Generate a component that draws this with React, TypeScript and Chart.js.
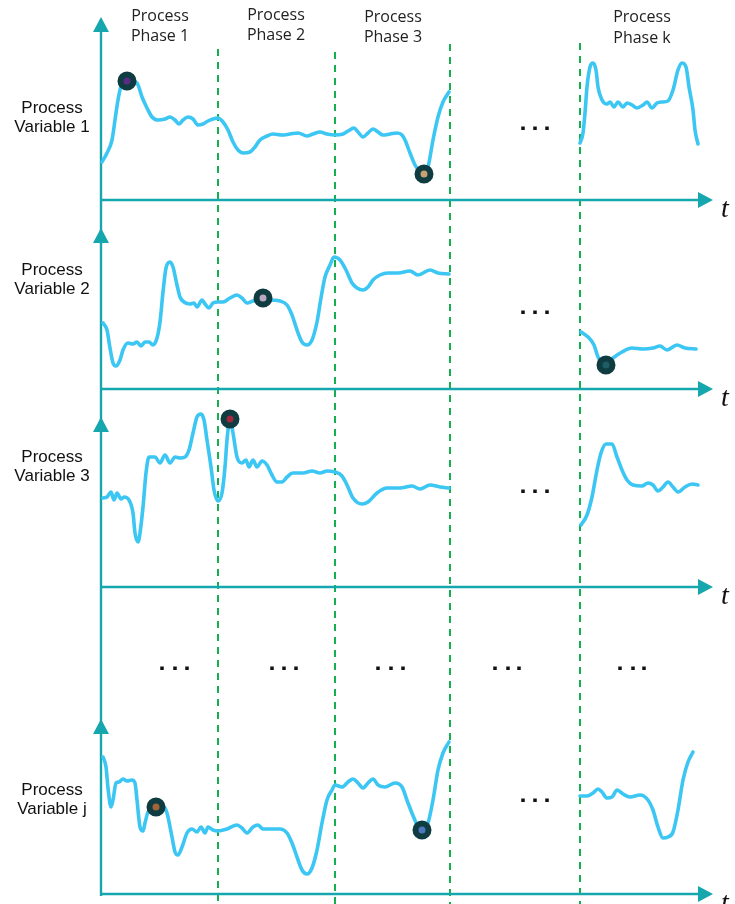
import React, { useEffect, useRef } from "react";
import { Chart, registerables } from "chart.js";

Chart.register(...registerables);

// ---------- labels ----------
const phaseLabels = ["Process\nPhase 1", "Process\nPhase 2", "Process\nPhase 3", "Process\nPhase k"];
const variableLabels = ["Process\nVariable 1", "Process\nVariable 2", "Process\nVariable 3", "Process\nVariable j"];
const timeAxisLabel = "t";

// phase positions (time units, 0 = vertical axis)
const phaseBoundaryT = [117, 234, 349, 479];
const phaseLabelT = [59, 175, 292, 541];

// ---------- series values (height above each panel's time axis) ----------
// Process Variable 1
const var1TimeA = [1, 6, 11, 14, 17, 21, 27, 36, 41, 46, 51, 57, 64, 69, 74, 78, 82, 87, 92, 97, 102, 107, 112, 117, 122, 127, 132, 137, 142, 149, 154, 159, 166, 172, 181, 189, 197, 206, 212, 219, 226, 234, 242, 247, 253, 257, 262, 267, 272, 277, 282, 289, 296, 301, 304, 309, 314, 319, 323, 327, 332, 337, 342, 348];
const var1ValA = [38, 47, 60, 80, 100, 117, 120, 117, 103, 92, 83, 80, 81, 83, 80, 76, 80, 83, 81, 75, 76, 79, 81, 82, 78, 70, 58, 50, 47, 48, 53, 60, 64, 66, 65, 66, 67, 64, 66, 68, 66, 65, 66, 69, 72, 68, 63, 67, 71, 68, 65, 66, 67, 65, 60, 47, 35, 28, 26, 33, 60, 83, 98, 108];
const var1TimeK = [479, 482, 484, 486, 489, 492, 495, 497, 501, 506, 509, 513, 517, 522, 526, 531, 536, 542, 546, 551, 556, 561, 567, 572, 577, 581, 585, 588, 592, 594, 597];
const var1ValK = [57, 67, 87, 113, 133, 137, 130, 113, 100, 96, 98, 93, 98, 93, 97, 95, 92, 95, 98, 92, 97, 98, 99, 110, 130, 137, 133, 113, 90, 70, 56];

// Process Variable 2
const var2TimeA = [2, 6, 9, 12, 15, 19, 22, 27, 32, 36, 40, 44, 48, 52, 56, 59, 62, 65, 69, 72, 76, 79, 83, 89, 93, 96, 101, 104, 108, 112, 117, 122, 129, 136, 141, 146, 152, 162, 171, 179, 186, 191, 196, 201, 206, 211, 216, 220, 224, 229, 233, 239, 245, 251, 256, 262, 267, 272, 279, 287, 297, 309, 317, 329, 337, 348];
const var2ValA = [66, 59, 41, 26, 23, 29, 39, 46, 45, 47, 43, 47, 47, 44, 51, 67, 97, 121, 127, 122, 104, 92, 87, 85, 86, 82, 89, 85, 81, 86, 87, 87, 91, 94, 91, 86, 88, 91, 89, 88, 84, 74, 59, 47, 44, 49, 67, 91, 112, 124, 132, 129, 119, 106, 101, 99, 102, 109, 114, 116, 116, 118, 114, 119, 116, 115];
const var2TimeK = [480, 487, 493, 497, 505, 512, 521, 531, 542, 552, 559, 566, 576, 584, 595];
const var2ValK = [57, 52, 44, 32, 24, 31, 37, 41, 40, 41, 43, 39, 44, 41, 40];

// Process Variable 3
const var3TimeA = [2, 6, 10, 13, 16, 20, 23, 28, 32, 34, 37, 39, 42, 45, 48, 54, 59, 64, 69, 74, 79, 84, 88, 92, 96, 100, 103, 106, 110, 113, 117, 121, 124, 126, 129, 132, 136, 141, 145, 148, 152, 156, 161, 166, 171, 176, 181, 186, 192, 202, 211, 219, 226, 234, 241, 246, 252, 261, 267, 276, 286, 299, 311, 319, 329, 339, 348];
const var3ValA = [89, 90, 95, 87, 94, 88, 90, 87, 74, 54, 45, 54, 80, 114, 130, 130, 124, 132, 124, 130, 129, 130, 137, 154, 170, 173, 167, 147, 120, 97, 86, 94, 120, 147, 168, 154, 130, 124, 127, 120, 127, 120, 126, 122, 112, 105, 105, 110, 114, 114, 116, 114, 116, 115, 111, 102, 89, 83, 85, 94, 99, 99, 101, 98, 102, 100, 99];
const var3TimeK = [480, 486, 491, 496, 500, 505, 511, 516, 521, 526, 532, 541, 547, 552, 557, 562, 567, 572, 577, 584, 591, 597];
const var3ValK = [62, 72, 90, 117, 134, 143, 143, 130, 117, 107, 102, 101, 104, 102, 96, 100, 105, 100, 95, 100, 103, 102];

// Process Variable j
const varJTimeA = [2, 5, 7, 10, 12, 15, 18, 22, 26, 31, 34, 36, 39, 42, 44, 47, 55, 63, 66, 71, 74, 77, 81, 86, 91, 96, 100, 104, 107, 112, 117, 126, 136, 141, 146, 152, 157, 162, 171, 179, 186, 191, 196, 201, 206, 211, 216, 221, 226, 231, 234, 241, 247, 252, 257, 262, 267, 272, 277, 284, 294, 301, 307, 313, 317, 321, 327, 332, 337, 342, 348];
const varJValA = [137, 127, 106, 87, 94, 111, 112, 115, 113, 114, 111, 94, 67, 63, 71, 82, 87, 87, 81, 57, 42, 39, 47, 61, 65, 62, 67, 61, 67, 64, 63, 65, 69, 66, 61, 67, 69, 65, 65, 65, 61, 51, 37, 24, 20, 26, 44, 71, 94, 104, 109, 107, 112, 115, 111, 106, 111, 115, 109, 107, 111, 107, 91, 76, 67, 64, 71, 94, 124, 141, 152];
const varJTimeK = [479, 486, 492, 497, 501, 506, 511, 516, 522, 529, 539, 547, 552, 557, 562, 567, 572, 577, 582, 587, 592];
const varJValK = [98, 98, 101, 105, 102, 96, 97, 104, 100, 97, 99, 94, 84, 67, 56, 57, 62, 84, 114, 132, 142];

// highlighted points
const markerPanel = [0, 0, 1, 1, 2, 3, 3];
const markerT = [26, 323, 162, 505, 129, 55, 321];
const markerV = [119, 26, 91, 24, 168, 87, 64];
const markerFill = ["#5b2a86", "#c9a274", "#baa8c2", "#1e5c66", "#a3263f", "#a3643a", "#4c78c2"];

// ellipsis positions
const panelEllipsisT = [422, 434, 446];
const panelEllipsisV = [72, 77, 96, 94];
const rowEllipsisT = [[61, 74, 86], [171, 183, 195], [277, 290, 302], [394, 407, 418], [519, 532, 543]];

// ---------- layout / style ----------
const W = 735;
const H = 904;
const ORIGIN_X = 101;
const PANEL_AXIS_PX = [200, 389, 587, 894];
const PANEL_ARROW_TOP = [183, 161, 170, 175]; // axis height (local units)
const DASH_TOP_PX = [49, 52, 44, 43];
const ROW_ELLIPSIS_PX = 668;
const AXIS_END_T = 597;
const VAR_LABEL_BASE = [[113, 132], [275, 294], [462, 481], [795, 814]];
const PHASE_LABEL_BASE = [[21, 41], [20, 40], [22, 42], [22, 43]];

const CURVE = "#3cc6f3";
const AXIS = "#15a6ae";
const GREEN = "#14b04f";
const MARKER_RING = "#0e3c40";

const segments = [
  { panel: 0, t: var1TimeA, v: var1ValA },
  { panel: 0, t: var1TimeK, v: var1ValK },
  { panel: 1, t: var2TimeA, v: var2ValA },
  { panel: 1, t: var2TimeK, v: var2ValK },
  { panel: 2, t: var3TimeA, v: var3ValA },
  { panel: 2, t: var3TimeK, v: var3ValK },
  { panel: 3, t: varJTimeA, v: varJValA },
  { panel: 3, t: varJTimeK, v: varJValK },
];

const decorPlugin = {
  id: "decor",
  beforeDatasetsDraw(chart: any) {
    const ctx = chart.ctx as CanvasRenderingContext2D;
    const xs = chart.scales.x;
    ctx.save();
    // phase boundaries
    ctx.strokeStyle = GREEN;
    ctx.lineWidth = 2;
    ctx.setLineDash([7, 6]);
    phaseBoundaryT.forEach((t, i) => {
      const x = Math.round(xs.getPixelForValue(t));
      ctx.beginPath();
      ctx.moveTo(x, DASH_TOP_PX[i]);
      ctx.lineTo(x, H);
      ctx.stroke();
    });
    ctx.setLineDash([]);

    // axes
    const x0 = xs.getPixelForValue(0);
    const xEnd = xs.getPixelForValue(AXIS_END_T);
    ctx.strokeStyle = AXIS;
    ctx.fillStyle = AXIS;
    ctx.lineWidth = 2.4;
    const topY = chart.scales.y0.getPixelForValue(PANEL_ARROW_TOP[0]);
    const botY = chart.scales.y3.getPixelForValue(0);
    ctx.beginPath();
    ctx.moveTo(x0, topY + 6);
    ctx.lineTo(x0, botY + 2);
    ctx.stroke();
    for (let p = 0; p < 4; p++) {
      const ys = chart.scales["y" + p];
      const yA = ys.getPixelForValue(0);
      ctx.beginPath();
      ctx.moveTo(x0, yA);
      ctx.lineTo(xEnd + 2, yA);
      ctx.stroke();
      // horizontal arrow
      ctx.beginPath();
      ctx.moveTo(xEnd + 15, yA);
      ctx.lineTo(xEnd, yA - 8);
      ctx.lineTo(xEnd, yA + 8);
      ctx.closePath();
      ctx.fill();
      // vertical arrow
      const yT = ys.getPixelForValue(PANEL_ARROW_TOP[p]);
      ctx.beginPath();
      ctx.moveTo(x0, yT);
      ctx.lineTo(x0 - 8, yT + 15);
      ctx.lineTo(x0 + 8, yT + 15);
      ctx.closePath();
      ctx.fill();
      // t label
      ctx.fillStyle = "#111";
      ctx.font = "italic 28px 'Liberation Serif', serif";
      ctx.textAlign = "left";
      ctx.textBaseline = "alphabetic";
      ctx.fillText(timeAxisLabel, xEnd + 23, yA + 17);
      ctx.fillStyle = AXIS;
    }
    ctx.restore();
  },
  afterDatasetsDraw(chart: any) {
    const ctx = chart.ctx as CanvasRenderingContext2D;
    const xs = chart.scales.x;
    ctx.save();
    // phase labels
    ctx.fillStyle = "#222";
    ctx.font = "16px 'Open Sans', sans-serif";
    ctx.textAlign = "center";
    ctx.textBaseline = "alphabetic";
    phaseLabels.forEach((lab, i) => {
      const x = xs.getPixelForValue(phaseLabelT[i]);
      lab.split("\n").forEach((line, j) => ctx.fillText(line, x, PHASE_LABEL_BASE[i][j]));
    });
    // variable labels
    ctx.fillStyle = "#111";
    ctx.font = "17px 'Liberation Sans', Arial, sans-serif";
    variableLabels.forEach((lab, i) => {
      lab.split("\n").forEach((line, j) => ctx.fillText(line, 52, VAR_LABEL_BASE[i][j]));
    });
    // ellipses
    ctx.fillStyle = "#111";
    for (let p = 0; p < 4; p++) {
      const ys = chart.scales["y" + p];
      const y = ys.getPixelForValue(panelEllipsisV[p]);
      panelEllipsisT.forEach((t) => {
        const x = xs.getPixelForValue(t);
        ctx.fillRect(x - 1.75, y - 1.5, 3.5, 3.5);
      });
    }
    rowEllipsisT.forEach((grp) =>
      grp.forEach((t) => {
        const x = xs.getPixelForValue(t);
        ctx.fillRect(x - 1.75, ROW_ELLIPSIS_PX - 1.5, 3.5, 3.5);
      })
    );
    ctx.restore();
  },
};

export default function App() {
  const ref = useRef<HTMLCanvasElement | null>(null);
  useEffect(() => {
    if (!ref.current) return;
    const scales: any = {
      x: { type: "linear", min: -ORIGIN_X, max: W - ORIGIN_X, display: false },
    };
    PANEL_AXIS_PX.forEach((a, p) => {
      scales["y" + p] = { type: "linear", min: -(H - a), max: a, display: false };
    });
    const datasets: any[] = [];
    markerT.forEach((t, i) => {
      datasets.push({
        type: "scatter",
        data: [{ x: t, y: markerV[i] }],
        yAxisID: "y" + markerPanel[i],
        pointRadius: 6.5,
        pointBorderWidth: 6,
        pointBorderColor: MARKER_RING,
        pointBackgroundColor: markerFill[i],
        order: 0,
      });
    });
    segments.forEach((s) => {
      datasets.push({
        type: "scatter",
        data: s.t.map((t, i) => ({ x: t, y: s.v[i] })),
        yAxisID: "y" + s.panel,
        showLine: true,
        borderColor: CURVE,
        borderWidth: 3.6,
        pointRadius: 0,
        cubicInterpolationMode: "monotone",
        borderCapStyle: "round",
        borderJoinStyle: "round",
        order: 1,
      });
    });
    const chart = new Chart(ref.current, {
      type: "scatter",
      data: { datasets },
      options: {
        animation: false,
        responsive: false,
        maintainAspectRatio: false,
        events: [],
        layout: { padding: 0, autoPadding: false },
        plugins: { legend: { display: false }, tooltip: { enabled: false }, title: { display: false } },
        scales,
      },
      plugins: [decorPlugin],
    } as any);
    return () => chart.destroy();
  }, []);
  return (
    <div style={{ position: "absolute", left: 0, top: 0, width: W, height: H, background: "#fff" }}>
      <canvas ref={ref} width={W} height={H} style={{ display: "block" }} />
    </div>
  );
}
